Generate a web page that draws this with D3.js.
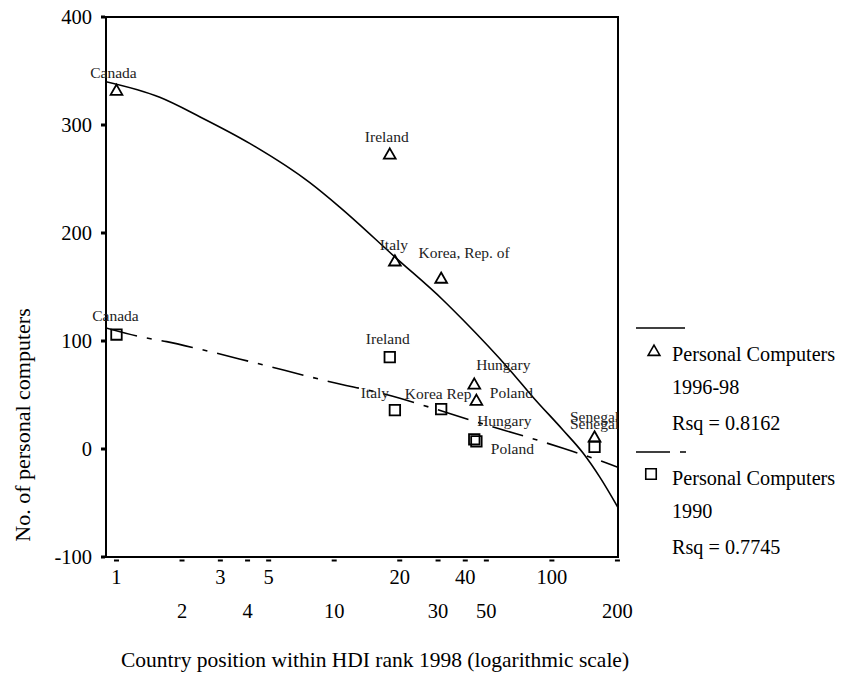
<!DOCTYPE html>
<html>
<head>
<meta charset="utf-8">
<script src="https://cdn.jsdelivr.net/npm/d3@7"></script>
<style>
  html, body { margin: 0; padding: 0; background: #fff; }
  svg { display: block; }
  text { font-family: "Liberation Serif", "Times New Roman", serif; fill: #000; }
</style>
</head>
<body>
<svg id="chart" width="849" height="686"></svg>
<script>
// ---------- data ----------
const countries = ["Canada", "Ireland", "Italy", "Korea", "Hungary", "Poland", "Senegal"];
const hdiRank   = [1, 18, 19, 31, 44, 45, 157];
const pc199698  = [332, 273, 174, 158, 60, 45, 11];
const pc1990    = [106, 85, 36, 37, 9, 7, 2];
const labels199698 = ["Canada", "Ireland", "Italy", "Korea, Rep. of", "Hungary", "Poland", "Senegal"];
const labels1990   = ["Canada", "Ireland", "Italy", "Korea Rep", "Hungary", "Poland", "Senegal"];

// fitted curves: [rank, value]
const fit199698Rank  = [0.895, 1.58, 2.41, 4.09, 7.73, 10.6, 19.2, 31.6, 39.1, 64.2, 81.9, 112.4, 139, 166, 201];
const fit199698Value = [340, 325.6, 307.7, 283, 246.6, 224, 177, 138, 119.4, 73, 48, 17.6, -3.7, -26, -54];
const fit1990Rank    = [0.895, 1.28, 1.70, 2.33, 4.40, 9.55, 17.7, 27.5, 42.0, 59.8, 85.6, 112.6, 172, 201];
const fit1990Value   = [112, 104, 99.4, 93.2, 79.4, 62.3, 50, 38.6, 26.9, 17.6, 8.3, 0.6, -11.8, -17];

const xTicksRow1 = [1, 3, 5, 20, 40, 100];
const xTicksRow2 = [2, 4, 10, 30, 50, 200];
const yTicks = [-100, 0, 100, 200, 300, 400];

const legendSeries = [
  { name: "Personal Computers", period: "1996-98", rsq: "Rsq = 0.8162" },
  { name: "Personal Computers", period: "1990",    rsq: "Rsq = 0.7745" }
];

// ---------- layout (not data) ----------
const plot = { left: 106, right: 618, top: 17, bottom: 557 };
// label offsets [dx of text centre, dy of baseline] relative to the marker
const labelOffTri = [[-3, -12], [-3, -12], [-1, -11], [23, -20], [29, -14], [35, -2], [0, -15]];
const labelOffSq  = [[-1, -13.5], [-2, -13], [-20, -12], [-3, -10], [30, -13], [36, 13], [0, -18]];

const svg = d3.select("#chart");
svg.append("rect").attr("width", 849).attr("height", 686).attr("fill", "#fff");

const x = d3.scaleLog().domain([0.895, 201.2]).range([plot.left, plot.right]);
const y = d3.scaleLinear().domain([-100, 400]).range([plot.bottom, plot.top]);

// frame
svg.append("rect")
  .attr("x", plot.left).attr("y", plot.top)
  .attr("width", plot.right - plot.left).attr("height", plot.bottom - plot.top)
  .attr("fill", "none").attr("stroke", "#000").attr("stroke-width", 2);

// y ticks (small squares) and labels
const yg = svg.append("g");
yTicks.forEach(v => {
  yg.append("rect").attr("x", plot.left - 5).attr("y", y(v) - 1.5)
    .attr("width", 4).attr("height", 3).attr("fill", "#000");
  yg.append("text").attr("x", 92).attr("y", y(v)).attr("dy", "0.35em")
    .attr("text-anchor", "end").style("font-size", "20.5px").text(v);
});

// x ticks (small dashes) and two-row labels
const xg = svg.append("g");
const allX = xTicksRow1.concat(xTicksRow2);
allX.forEach(v => {
  xg.append("rect").attr("x", x(v) - 2.5).attr("y", plot.bottom + 2.5)
    .attr("width", 5).attr("height", 2).attr("fill", "#000");
});
xTicksRow1.forEach(v => {
  xg.append("text").attr("x", x(v)).attr("y", 584).attr("text-anchor", "middle")
    .style("font-size", "20.5px").text(v);
});
xTicksRow2.forEach(v => {
  xg.append("text").attr("x", x(v)).attr("y", 618).attr("text-anchor", "middle")
    .style("font-size", "20.5px").text(v);
});

// axis titles
svg.append("text").attr("x", 375).attr("y", 667).attr("text-anchor", "middle")
  .style("font-size", "21.5px").text("Country position within HDI rank 1998 (logarithmic scale)");
svg.append("text").attr("transform", "translate(30,425) rotate(-90)")
  .attr("text-anchor", "middle").style("font-size", "22px").text("No. of personal computers");

// fitted lines
const line = d3.line().x(d => x(d[0])).y(d => y(d[1])).curve(d3.curveMonotoneX);
svg.append("clipPath").attr("id", "clip").append("rect")
  .attr("x", plot.left).attr("y", plot.top)
  .attr("width", plot.right - plot.left).attr("height", plot.bottom - plot.top);

svg.append("path").datum(fit199698Rank.map((r, i) => [r, fit199698Value[i]]))
  .attr("d", line).attr("fill", "none").attr("stroke", "#000").attr("stroke-width", 1.6)
  .attr("clip-path", "url(#clip)");
svg.append("path").datum(fit1990Rank.map((r, i) => [r, fit1990Value[i]]))
  .attr("d", line).attr("fill", "none").attr("stroke", "#000").attr("stroke-width", 1.6)
  .attr("stroke-dasharray", "32,10,5,10")
  .attr("clip-path", "url(#clip)");

// markers
const tri = d3.symbol().type(d3.symbolTriangle).size(60);
const sq = d3.symbol().type(d3.symbolSquare).size(110);

const g1 = svg.append("g");
countries.forEach((c, i) => {
  const cx = x(hdiRank[i]), cy = y(pc199698[i]);
  g1.append("path").attr("d", tri).attr("transform", `translate(${cx},${cy + 1})`)
    .attr("fill", "none").attr("stroke", "#000").attr("stroke-width", 1.8);
  g1.append("text").attr("x", cx + labelOffTri[i][0]).attr("y", cy + labelOffTri[i][1])
    .attr("text-anchor", "middle").style("font-size", "15.5px").style("fill", "#222")
    .text(labels199698[i]);
});
const g2 = svg.append("g");
countries.forEach((c, i) => {
  const cx = x(hdiRank[i]), cy = y(pc1990[i]);
  g2.append("path").attr("d", sq).attr("transform", `translate(${cx},${cy})`)
    .attr("fill", "none").attr("stroke", "#000").attr("stroke-width", 1.8);
  g2.append("text").attr("x", cx + labelOffSq[i][0]).attr("y", cy + labelOffSq[i][1])
    .attr("text-anchor", "middle").style("font-size", "15.5px").style("fill", "#222")
    .text(labels1990[i]);
});

// legend
const lg = svg.append("g");
const legTop = [328, 452];
legendSeries.forEach((s, i) => {
  const ty = legTop[i];
  if (i === 0) {
    lg.append("line").attr("x1", 636).attr("x2", 685).attr("y1", ty).attr("y2", ty)
      .attr("stroke", "#000").attr("stroke-width", 1.6);
    lg.append("path").attr("d", tri).attr("transform", `translate(654,${ty + 24})`)
      .attr("fill", "none").attr("stroke", "#000").attr("stroke-width", 1.6);
  } else {
    lg.append("line").attr("x1", 636).attr("x2", 686).attr("y1", ty).attr("y2", ty)
      .attr("stroke", "#000").attr("stroke-width", 1.6).attr("stroke-dasharray", "34,10,6,100");
    lg.append("path").attr("d", sq).attr("transform", `translate(651,${ty + 22})`)
      .attr("fill", "none").attr("stroke", "#000").attr("stroke-width", 1.6);
  }
  lg.append("text").attr("x", 672).attr("y", ty + 33).style("font-size", "20.2px").text(s.name);
  lg.append("text").attr("x", 672).attr("y", ty + 66).style("font-size", "20.2px").text(s.period);
  lg.append("text").attr("x", 672).attr("y", ty + 102).style("font-size", "20.2px").text(s.rsq);
});
</script>
</body>
</html>
